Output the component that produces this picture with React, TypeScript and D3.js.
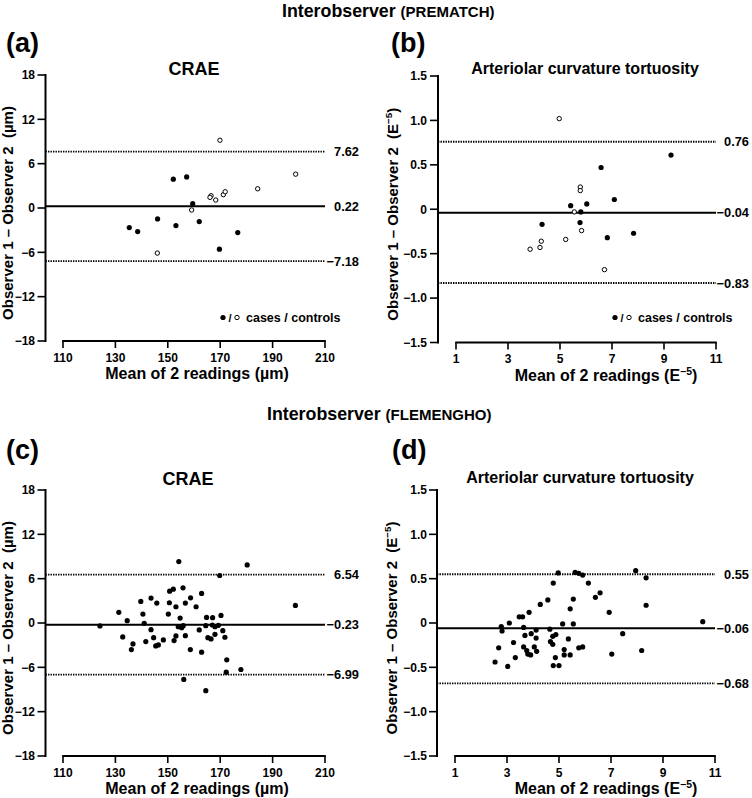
import React from 'react';
import * as d3 from 'd3';

const FONT = '"Liberation Sans", Arial, Helvetica, sans-serif';

// ---------- DATA ----------
// Panel (a) CRAE, PREMATCH: [mean of 2 readings, difference]
const aCases: [number, number][] = [
  [152.1, 3.9], [157.2, 4.2], [159.5, 0.58], [135.3, -2.65], [138.5, -3.19],
  [146.1, -1.48], [153.1, -2.38], [162.0, -1.84], [176.7, -3.33], [169.7, -5.57],
];
const aControls: [number, number][] = [
  [169.9, 9.17], [198.8, 4.58], [184.3, 2.6], [166.5, 1.66], [166.1, 1.44],
  [168.3, 1.08], [171.2, 1.8], [171.9, 2.2], [159.1, -0.27], [146.0, -6.1],
];
const aStats = [7.62, 0.22, -7.18];

// Panel (b) Arteriolar curvature tortuosity, PREMATCH
const bCases: [number, number][] = [
  [9.27, 0.61], [6.58, 0.47], [7.09, 0.11], [5.41, 0.04], [6.03, 0.06],
  [5.8, -0.03], [5.77, -0.15], [4.31, -0.17], [6.82, -0.32], [7.83, -0.27],
];
const bControls: [number, number][] = [
  [4.97, 1.02], [5.78, 0.25], [5.78, 0.21], [5.55, -0.03], [5.83, -0.24],
  [5.22, -0.34], [4.28, -0.36], [4.23, -0.43], [3.85, -0.45], [6.71, -0.68],
];
const bStats = [0.76, -0.04, -0.83];

// Panel (c) CRAE, FLEMENGHO
const cPoints: [number, number][] = [
  [154.2, 8.31], [180.3, 7.86], [169.8, 6.43], [150.7, 4.31], [152.1, 4.58],
  [155.8, 4.76], [162.9, 4.0], [158.7, 3.41], [143.6, 3.37], [139.7, 2.92],
  [145.8, 2.7], [150.6, 2.74], [156.7, 2.7], [153.1, 2.2], [160.8, 2.2],
  [131.3, 1.44], [140.5, 1.21], [150.2, 1.21], [170.3, 1.03], [154.7, 0.67],
  [164.8, 0.76], [167.1, 0.72], [134.5, 0.31], [141.0, -0.05], [124.1, -0.4],
  [154.0, -0.5], [155.9, -0.36], [155.3, -0.63], [164.5, -0.36], [167.0, -0.27],
  [169.3, -0.31], [168.0, -0.5], [143.6, -0.9], [162.0, -0.94], [171.0, -1.04],
  [153.1, -1.75], [156.7, -1.71], [168.0, -1.53], [132.8, -1.89], [144.6, -1.98],
  [165.3, -1.98], [166.5, -2.16], [171.8, -1.93], [148.3, -2.29], [141.6, -2.52],
  [152.4, -2.38], [136.7, -2.83], [146.4, -2.97], [145.4, -3.1], [136.1, -3.59],
  [158.6, -3.59], [162.9, -3.95], [172.5, -4.99], [177.9, -6.29], [172.3, -6.65],
  [156.1, -7.64], [164.5, -9.16], [198.7, 2.38],
];
const cStats = [6.54, -0.23, -6.99];

// Panel (d) Arteriolar curvature tortuosity, FLEMENGHO
const dPoints: [number, number][] = [
  [4.97, 0.565], [5.62, 0.57], [5.76, 0.56], [5.91, 0.54], [7.95, 0.59],
  [8.35, 0.51], [4.78, 0.45], [6.13, 0.45], [6.58, 0.34], [6.4, 0.29],
  [4.57, 0.26], [5.55, 0.27], [4.28, 0.21], [8.35, 0.2], [5.43, 0.16],
  [6.93, 0.12], [3.85, 0.12], [3.47, 0.07], [3.6, 0.07], [3.09, 0.0],
  [5.14, -0.01], [5.55, -0.01], [10.53, 0.015], [2.78, -0.04], [2.81, -0.09],
  [3.64, -0.05], [4.12, -0.08], [4.65, -0.07], [3.93, -0.12], [3.69, -0.14],
  [4.88, -0.13], [4.76, -0.15], [7.45, -0.12], [4.12, -0.17], [3.25, -0.22],
  [4.67, -0.21], [4.76, -0.24], [5.36, -0.18], [3.64, -0.27], [4.05, -0.27],
  [2.68, -0.28], [5.76, -0.28], [5.91, -0.27], [5.2, -0.3], [8.18, -0.31],
  [3.76, -0.31], [4.14, -0.32], [3.8, -0.35], [3.91, -0.36], [5.2, -0.36],
  [5.43, -0.36], [7.03, -0.35], [3.32, -0.39], [4.86, -0.39], [2.54, -0.44],
  [4.78, -0.48], [5.0, -0.48], [3.03, -0.49],
];
const dStats = [0.55, -0.06, -0.68];

const umTicksX = [110, 130, 150, 170, 190, 210];
const umTicksY = [-18, -12, -6, 0, 6, 12, 18];
const eTicksX = [1, 3, 5, 7, 9, 11];
const eTicksY = [-1.5, -1.0, -0.5, 0, 0.5, 1.0, 1.5];

const minus = (s: string) => s.replace('-', '\u2212');
const fmtUm = (v: number) => minus(String(v));
const fmtE = (v: number) => (v === 0 ? '0' : minus(v.toFixed(1)));
const fmtStat = (v: number) => minus(v.toFixed(2));

type PanelProps = {
  axisX: number;
  xRange: [number, number];
  xDomain: [number, number];
  xTicks: number[];
  yRange: [number, number];
  yDomain: [number, number];
  yTicks: number[];
  yFmt: (v: number) => string;
  stats: number[];
  labelEnd: number;
  tickLabelEnd: number;
  cases: [number, number][];
  controls: [number, number][];
  legend?: { x: number; y: number };
  unit: 'um' | 'e';
  yLabelX: number;
  xLabelX: number;
};

const Unit = ({ unit }: { unit: 'um' | 'e' }) =>
  unit === 'um' ? (
    <tspan>(µm)</tspan>
  ) : (
    <>
      <tspan>(E</tspan>
      <tspan dy={-6} fontSize="0.65em">{'\u22125'}</tspan>
      <tspan dy={6}>)</tspan>
    </>
  );

const Panel = (p: PanelProps) => {
  const x = d3.scaleLinear().domain(p.xDomain).range(p.xRange);
  const y = d3.scaleLinear().domain(p.yDomain).range(p.yRange);
  const yBottom = p.yRange[0];
  const yTop = p.yRange[1];
  const lineStart = p.axisX;
  const lineEnd = p.xRange[1];
  const yMid = (yBottom + yTop) / 2;
  return (
    <g>
      {/* y axis */}
      <line x1={p.axisX} x2={p.axisX} y1={yTop - 1} y2={yBottom + 1} stroke="#000" strokeWidth={2} />
      {p.yTicks.map((t) => (
        <g key={'yt' + t}>
          <line x1={p.axisX - 8} x2={p.axisX} y1={y(t)} y2={y(t)} stroke="#000" strokeWidth={1.6} />
          <text x={p.tickLabelEnd} y={y(t)} dy="0.36em" textAnchor="end" fontSize={12} fontWeight="bold">
            {p.yFmt(t)}
          </text>
        </g>
      ))}
      {/* x axis */}
      <line x1={p.xRange[0] - 0.8} x2={p.xRange[1] + 0.8} y1={yBottom} y2={yBottom} stroke="#000" strokeWidth={2} />
      {p.xTicks.map((t) => (
        <g key={'xt' + t}>
          <line x1={x(t)} x2={x(t)} y1={yBottom} y2={yBottom + 7} stroke="#000" strokeWidth={1.6} />
          <text x={x(t)} y={yBottom + 20.5} textAnchor="middle" fontSize={12} fontWeight="bold">
            {t}
          </text>
        </g>
      ))}
      {/* limits of agreement and mean difference */}
      {p.stats.map((s, i) => (
        <g key={'s' + i}>
          <line
            x1={lineStart}
            x2={lineEnd}
            y1={y(s)}
            y2={y(s)}
            stroke="#000"
            strokeWidth={i === 1 ? 2 : 1.8}
            strokeDasharray={i === 1 ? undefined : '1.4,1.1'}
          />
          <text x={p.labelEnd} y={y(s)} dy="0.36em" textAnchor="end" fontSize={12.8} fontWeight="bold">
            {fmtStat(s)}
          </text>
        </g>
      ))}
      {/* points */}
      {p.cases.map((d, i) => (
        <circle key={'c' + i} cx={x(d[0])} cy={y(d[1])} r={2.6} fill="#000" />
      ))}
      {p.controls.map((d, i) => (
        <circle key={'o' + i} cx={x(d[0])} cy={y(d[1])} r={2.2} fill="#fff" stroke="#000" strokeWidth={1} />
      ))}
      {/* legend */}
      {p.legend && (
        <g>
          <circle cx={p.legend.x} cy={p.legend.y} r={2.6} fill="#000" />
          <text x={p.legend.x + 7} y={p.legend.y + 4} textAnchor="middle" fontSize={11} fontWeight="bold">
            /
          </text>
          <circle cx={p.legend.x + 14} cy={p.legend.y} r={2.2} fill="#fff" stroke="#000" strokeWidth={1} />
          <text x={p.legend.x + 23} y={p.legend.y + 4.3} fontSize={12.5} fontWeight="bold">
            cases / controls
          </text>
        </g>
      )}
      {/* axis titles */}
      <text x={p.xLabelX} y={yBottom + 38} textAnchor="middle" fontSize={16} fontWeight="bold">
        Mean of 2 readings <Unit unit={p.unit} />
      </text>
      <text
        transform={`translate(${p.yLabelX},${yMid + 5}) rotate(-90)`}
        textAnchor="middle"
        fontSize={15}
        fontWeight="bold"
      >
        Observer 1 – Observer 2{'\u00a0\u00a0'}
        <Unit unit={p.unit} />
      </text>
    </g>
  );
};

export default function App() {
  return (
    <svg width={752} height={798} style={{ display: 'block', position: 'absolute', left: 0, top: 0 }} fontFamily={FONT}>
      <rect width={752} height={798} fill="#fff" />
      {/* section titles */}
      <text x={282} y={16.5} fontWeight="bold">
        <tspan fontSize={17.8}>Interobserver </tspan>
        <tspan fontSize={15}>(PREMATCH)</tspan>
      </text>
      <text x={267} y={420} fontWeight="bold">
        <tspan fontSize={17.8}>Interobserver </tspan>
        <tspan fontSize={15}>(FLEMENGHO)</tspan>
      </text>
      {/* panel letters */}
      <text x={6} y={52} fontSize={27} fontWeight="bold">(a)</text>
      <text x={391} y={52} fontSize={27} fontWeight="bold">(b)</text>
      <text x={6} y={459} fontSize={27} fontWeight="bold">(c)</text>
      <text x={392} y={459} fontSize={27} fontWeight="bold">(d)</text>
      {/* panel titles */}
      <text x={194} y={75} textAnchor="middle" fontSize={18} fontWeight="bold">CRAE</text>
      <text x={585} y={74} textAnchor="middle" fontSize={16} fontWeight="bold">Arteriolar curvature tortuosity</text>
      <text x={188} y={485} textAnchor="middle" fontSize={18} fontWeight="bold">CRAE</text>
      <text x={580} y={483} textAnchor="middle" fontSize={16} fontWeight="bold">Arteriolar curvature tortuosity</text>

      <Panel axisX={45.5} xRange={[63, 325]} xDomain={[110, 210]} xTicks={umTicksX} yRange={[341, 75]} yDomain={[-18, 18]} yTicks={umTicksY} yFmt={fmtUm} stats={aStats} labelEnd={359} tickLabelEnd={35} cases={aCases} controls={aControls} legend={{ x: 223, y: 317.5 }} unit="um" yLabelX={12.5} xLabelX={197} />
      <Panel axisX={438} xRange={[456, 716]} xDomain={[1, 11]} xTicks={eTicksX} yRange={[342.5, 76]} yDomain={[-1.5, 1.5]} yTicks={eTicksY} yFmt={fmtE} stats={bStats} labelEnd={749} tickLabelEnd={427} cases={bCases} controls={bControls} legend={{ x: 615, y: 317.5 }} unit="e" yLabelX={398} xLabelX={606} />
      <Panel axisX={45.5} xRange={[63, 325]} xDomain={[110, 210]} xTicks={umTicksX} yRange={[756, 490]} yDomain={[-18, 18]} yTicks={umTicksY} yFmt={fmtUm} stats={cStats} labelEnd={359} tickLabelEnd={35} cases={cPoints} controls={[]} unit="um" yLabelX={12.5} xLabelX={197} />
      <Panel axisX={437} xRange={[455, 715]} xDomain={[1, 11]} xTicks={eTicksX} yRange={[756, 490]} yDomain={[-1.5, 1.5]} yTicks={eTicksY} yFmt={fmtE} stats={dStats} labelEnd={749} tickLabelEnd={427} cases={dPoints} controls={[]} unit="e" yLabelX={397} xLabelX={606} />
    </svg>
  );
}
